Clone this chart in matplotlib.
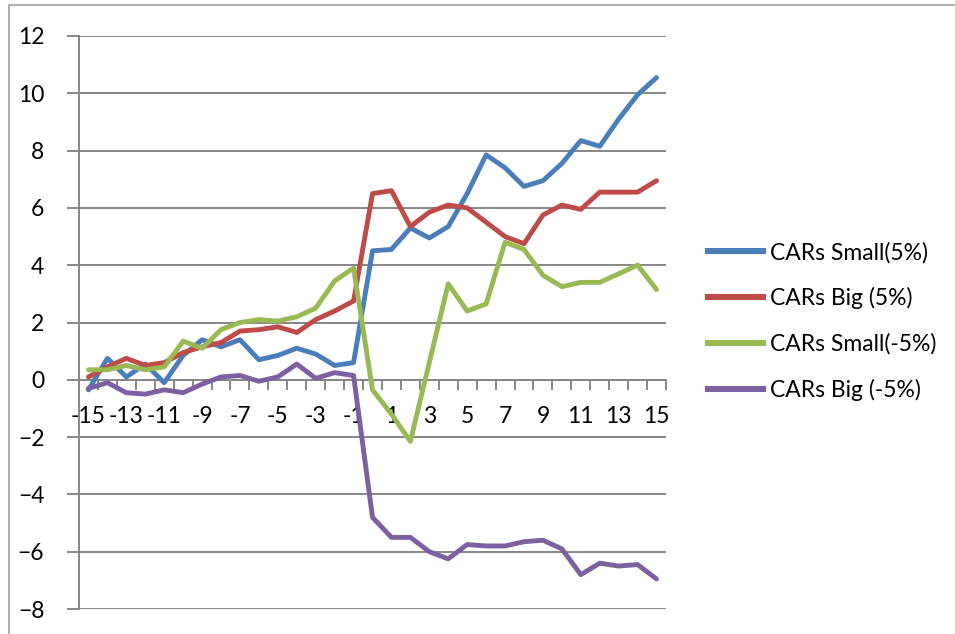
import matplotlib.pyplot as plt
from matplotlib.lines import Line2D
from matplotlib.patches import Rectangle
import numpy as np

# event window days and cumulative abnormal returns (%)
days = list(range(-15, 16))

cars_small_5 = [-0.35, 0.75, 0.1, 0.55, -0.1, 0.85, 1.4, 1.15, 1.4, 0.7, 0.85,
                1.1, 0.9, 0.5, 0.6, 4.5, 4.55, 5.3, 4.95, 5.35, 6.5, 7.85,
                7.4, 6.75, 6.95, 7.55, 8.35, 8.15, 9.1, 9.95, 10.55]
cars_big_5 = [0.1, 0.45, 0.75, 0.5, 0.6, 0.95, 1.15, 1.3, 1.7, 1.75, 1.85,
              1.65, 2.1, 2.4, 2.75, 6.5, 6.6, 5.35, 5.85, 6.1, 6.0, 5.5,
              5.0, 4.75, 5.75, 6.1, 5.95, 6.55, 6.55, 6.55, 6.95]
cars_small_m5 = [0.35, 0.35, 0.5, 0.35, 0.45, 1.35, 1.1, 1.75, 2.0, 2.1, 2.05,
                 2.2, 2.5, 3.45, 3.9, -0.35, -1.2, -2.15, 0.6, 3.35, 2.4, 2.65,
                 4.8, 4.55, 3.65, 3.25, 3.4, 3.4, 3.7, 4.0, 3.15]
cars_big_m5 = [-0.3, -0.1, -0.45, -0.5, -0.35, -0.45, -0.15, 0.1, 0.15, -0.05, 0.1,
               0.55, 0.05, 0.25, 0.15, -4.8, -5.5, -5.5, -6.0, -6.25, -5.75, -5.8,
               -5.8, -5.65, -5.6, -5.9, -6.8, -6.4, -6.5, -6.45, -6.95]

labels = ['CARs Small(5%)', 'CARs Big (5%)', 'CARs Small(-5%)', 'CARs Big (-5%)']
colors = ['#4A7EBB', '#BE4B48', '#98B954', '#7D60A0']

plt.rcParams['font.family'] = ['Lato', 'DejaVu Sans']

fig = plt.figure(figsize=(9.55, 6.34), dpi=100)
ax = fig.add_axes([79 / 955, 1 - 609 / 634, (666 - 79) / 955, (609 - 36) / 634])

# outer chart border (top and left visible)
fig.patches.append(Rectangle((9 / 955, -0.1), 1.2, 1 - 5 / 634 + 0.1,
                             transform=fig.transFigure, fill=False,
                             edgecolor='#A0A0A0', linewidth=1.2))

x = np.arange(len(days))
series = [cars_small_5, cars_big_5, cars_small_m5, cars_big_m5]
for vals, lab, col in zip(series, labels, colors):
    ax.plot(x, vals, color=col, linewidth=3.5, label=lab,
            solid_joinstyle='round', solid_capstyle='round', zorder=3)

ax.set_xlim(-0.5, len(days) - 0.5)
ax.set_ylim(-8, 12)
ax.set_yticks(np.arange(-8, 13, 2))
ax.grid(axis='y', color='#878787', linewidth=1.4)
ax.set_axisbelow(True)

# category axis crossing at zero
ax.spines['bottom'].set_position(('data', 0))
ax.spines['bottom'].set_color('#878787')
ax.spines['bottom'].set_linewidth(1.4)
ax.spines['left'].set_color('#878787')
ax.spines['left'].set_linewidth(1.4)
ax.spines['top'].set_visible(False)
ax.spines['right'].set_visible(False)

ax.set_xticks(x[::2])
ax.set_xticklabels([str(d) for d in days[::2]])
ax.set_xticks(np.arange(-0.5, len(days), 1), minor=True)
ax.tick_params(axis='x', which='major', length=0, pad=19, labelsize=16.5)
ax.tick_params(axis='x', which='minor', length=7, width=1.4, color='#878787', direction='out')
ax.tick_params(axis='y', length=9, width=1.4, color='#878787', pad=16, labelsize=16.5)

handles = [Line2D([0], [0], color=c, linewidth=4.4) for c in colors]
fig.legend(handles, labels, loc='center left', bbox_to_anchor=(0.72, 0.493),
           frameon=False, fontsize=16.5, handlelength=2.4, handletextpad=0.3,
           labelspacing=1.05)

fig.savefig('out.png', dpi=100)
